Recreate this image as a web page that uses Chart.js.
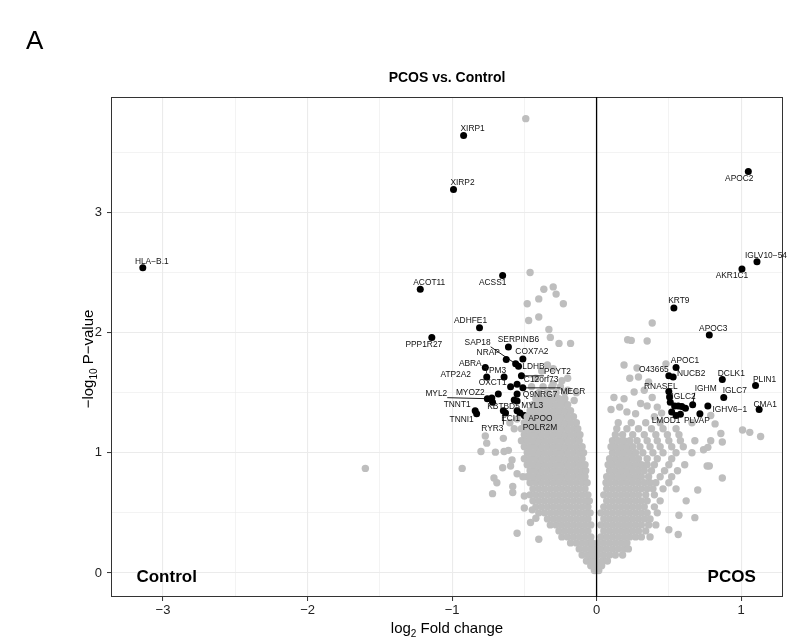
<!DOCTYPE html>
<html>
<head>
<meta charset="utf-8">
<script src="https://cdn.jsdelivr.net/npm/chart.js@4.4.1/dist/chart.umd.min.js"></script>
<style>
  html, body { margin: 0; padding: 0; background: #fff; }
  #wrap { width: 791px; height: 644px; position: relative; }
</style>
</head>
<body>
<div id="wrap"><canvas id="volcano"></canvas></div>
<script>
// axis ticks (major = integers, minor = halves)
const xTicks = [-3, -2.5, -2, -1.5, -1, -0.5, 0, 0.5, 1];
const yTicks = [0, 0.5, 1, 1.5, 2, 2.5, 3, 3.5];

// significant genes (black)
const genes = ["HLA\u2212B.1", "XIRP1", "XIRP2", "ACSS1", "ACOT11", "APOC2", "IGLV10\u221254", "AKR1C1",
  "ADHFE1", "PPP1R27", "SERPINB6", "SAP18", "NRAP", "COX7A2", "LDHB", "ABRA", "TPM3", "ATP2A2",
  "PCYT2", "OXCT1", "C12orf73", "MECR", "Q9NRG7", "MYL2", "MYOZ2", "KBTBD5", "MYL3", "TNNT1",
  "TNNI1", "ECI1", "RYR3", "APOO", "POLR2M",
  "KRT9", "APOC3", "APOC1", "O43665", "NUCB2", "DCLK1", "PLIN1", "RNASEL", "IGLC2", "IGHM",
  "IGLC7", "IGHV6\u22121", "CMA1", "PLVAP", "LMOD1",
  "", "", "", "", "", "", "", "", "", ""];
const geneFC = [-3.14, -0.92, -0.99, -0.65, -1.22, 1.05, 1.11, 1.006,
  -0.81, -1.14, -0.61, -0.56, -0.625, -0.51, -0.54, -0.77, -0.64, -0.76,
  -0.52, -0.595, -0.55, -0.51, -0.55, -0.756, -0.68, -0.72, -0.57, -0.84,
  -0.83, -0.63, -0.645, -0.50, -0.53,
  0.535, 0.78, 0.55, 0.50, 0.53, 0.87, 1.10, 0.50, 0.505, 0.665,
  0.88, 0.77, 1.125, 0.715, 0.55,
  -0.725, -0.55, -0.55, 0.51, 0.54, 0.565, 0.59, 0.615, 0.52, 0.58];
const geneP = [2.54, 3.64, 3.19, 2.475, 2.36, 3.34, 2.59, 2.53,
  2.04, 1.96, 1.88, 1.74, 1.775, 1.78, 1.72, 1.71, 1.63, 1.63,
  1.64, 1.55, 1.57, 1.54, 1.49, 1.45, 1.49, 1.42, 1.44, 1.35,
  1.325, 1.33, 1.35, 1.31, 1.33,
  2.205, 1.98, 1.71, 1.64, 1.63, 1.61, 1.56, 1.51, 1.465, 1.40,
  1.46, 1.39, 1.36, 1.325, 1.31,
  1.455, 1.43, 1.35, 1.42, 1.39, 1.39, 1.385, 1.37, 1.34, 1.32];

// label placement (pixel offsets from the point) and which labels get a leader line
const labelDX = [9, 9, 9, -10, 9, -9, 9, -10,
  -9, -8, 10, -38, -18, 9, 15, -15, -9, -31,
  36, -18, 24, 50, 23, -51, -28, 11, 18, -18,
  -15, 5, -11, 16, 20,
  5, 4, 9, -15, 18, 9, 9, -8, 14, 13,
  11, 22, 6, -3, -10];
const labelDY = [-6, -7, -7, 7, -7, 7, -6, 7,
  -7, 7, -7, -21, -7, -7, 0, -4, -6, -2,
  -4, -4, -5, 4, 1, -5, -1, 4, 6, -6,
  6, 6, 18, 3, 15,
  -7, -6, -7, -6, -3, -6, -6, -5, 0, -16,
  -7, 4, -5, 7, 5];
const leaderGenes = ["SAP18", "PCYT2", "MECR", "MYL2", "RYR3", "IGHM"];

// non-significant genes (grey): rows of [-log10 P, [log2 FC ...]]
const grayRows = [
  [0.02, [-0.015, 0.0, 0.015]],
  [0.06, [-0.04, -0.015, 0.01, 0.035]],
  [0.10, [-0.07, -0.035, 0.0, 0.04, 0.075]],
  [0.15, [-0.10, -0.06, -0.025, 0.01, 0.05, 0.09, 0.13, 0.18]],
  [0.20, [-0.12, -0.08, -0.04, -0.01, 0.03, 0.07, 0.11, 0.15, 0.19, 0.22]],
  [0.25, [-0.18, -0.14, -0.10, -0.06, -0.03, 0.01, 0.05, 0.09, 0.13, 0.17, 0.21]],
  [0.30, [-0.24, -0.20, -0.16, -0.12, -0.08, -0.04, 0.03, 0.07, 0.11, 0.15, 0.19, 0.23, 0.27, 0.31, 0.37]],
  [0.35, [-0.26, -0.22, -0.18, -0.14, -0.10, -0.06, 0.05, 0.09, 0.13, 0.17, 0.21, 0.25, 0.29, 0.34]],
  [0.40, [-0.32, -0.28, -0.24, -0.20, -0.16, -0.12, -0.08, -0.04, 0.03, 0.07, 0.11, 0.15, 0.19, 0.23, 0.27, 0.31, 0.36, 0.41]],
  [0.45, [-0.34, -0.30, -0.26, -0.22, -0.18, -0.14, -0.10, -0.06, 0.05, 0.09, 0.13, 0.17, 0.21, 0.25, 0.29, 0.33, 0.37]],
  [0.50, [-0.40, -0.36, -0.32, -0.28, -0.24, -0.20, -0.16, -0.12, -0.08, -0.045, 0.03, 0.07, 0.11, 0.15, 0.19, 0.23, 0.27, 0.31, 0.35, 0.42]],
  [0.55, [-0.42, -0.38, -0.34, -0.30, -0.26, -0.22, -0.18, -0.14, -0.10, -0.06, 0.05, 0.09, 0.13, 0.17, 0.21, 0.25, 0.29, 0.33, 0.40]],
  [0.60, [-0.44, -0.40, -0.36, -0.32, -0.28, -0.24, -0.20, -0.16, -0.12, -0.08, -0.05, 0.07, 0.11, 0.15, 0.19, 0.23, 0.27, 0.31, 0.35, 0.44]],
  [0.65, [-0.46, -0.42, -0.38, -0.34, -0.30, -0.26, -0.22, -0.18, -0.14, -0.10, -0.06, 0.05, 0.09, 0.13, 0.17, 0.21, 0.25, 0.29, 0.34, 0.40]],
  [0.70, [-0.44, -0.40, -0.36, -0.32, -0.28, -0.24, -0.20, -0.16, -0.12, -0.08, 0.07, 0.11, 0.15, 0.19, 0.23, 0.27, 0.31, 0.35, 0.39, 0.46]],
  [0.75, [-0.46, -0.42, -0.38, -0.34, -0.30, -0.26, -0.22, -0.18, -0.14, -0.10, -0.065, 0.065, 0.09, 0.13, 0.17, 0.21, 0.25, 0.29, 0.33, 0.37, 0.41, 0.50]],
  [0.80, [-0.48, -0.44, -0.40, -0.36, -0.32, -0.28, -0.24, -0.20, -0.16, -0.12, -0.08, 0.07, 0.11, 0.15, 0.19, 0.23, 0.27, 0.31, 0.36, 0.44, 0.52]],
  [0.85, [-0.46, -0.42, -0.38, -0.34, -0.30, -0.26, -0.22, -0.18, -0.14, -0.10, -0.075, 0.09, 0.13, 0.17, 0.21, 0.25, 0.29, 0.33, 0.38, 0.47, 0.56]],
  [0.90, [-0.48, -0.44, -0.40, -0.36, -0.32, -0.28, -0.24, -0.20, -0.16, -0.12, -0.08, 0.08, 0.11, 0.15, 0.19, 0.23, 0.27, 0.31, 0.35, 0.40, 0.50, 0.61]],
  [0.95, [-0.50, -0.46, -0.42, -0.38, -0.34, -0.30, -0.26, -0.22, -0.18, -0.14, -0.10, 0.09, 0.13, 0.17, 0.21, 0.25, 0.29, 0.35, 0.42, 0.52]],
  [1.00, [-0.48, -0.44, -0.40, -0.36, -0.32, -0.28, -0.24, -0.20, -0.16, -0.12, -0.09, 0.11, 0.15, 0.19, 0.23, 0.27, 0.32, 0.39, 0.46, 0.55, 0.66]],
  [1.05, [-0.50, -0.46, -0.42, -0.38, -0.34, -0.30, -0.26, -0.22, -0.18, -0.14, -0.10, 0.10, 0.13, 0.17, 0.21, 0.25, 0.30, 0.37, 0.44, 0.52, 0.60]],
  [1.10, [-0.52, -0.48, -0.44, -0.40, -0.36, -0.32, -0.28, -0.24, -0.20, -0.16, -0.12, 0.11, 0.15, 0.19, 0.23, 0.28, 0.35, 0.42, 0.50, 0.58, 0.68]],
  [1.15, [-0.50, -0.46, -0.42, -0.38, -0.34, -0.30, -0.26, -0.22, -0.18, -0.14, -0.115, 0.13, 0.18, 0.25, 0.33, 0.41, 0.49, 0.57]],
  [1.20, [-0.52, -0.48, -0.44, -0.40, -0.36, -0.32, -0.28, -0.24, -0.20, -0.16, -0.13, 0.14, 0.21, 0.29, 0.38, 0.46, 0.55]],
  [1.25, [-0.50, -0.46, -0.42, -0.38, -0.34, -0.30, -0.26, -0.22, -0.18, -0.14, 0.15, 0.24, 0.34, 0.44]],
  [1.30, [-0.48, -0.44, -0.40, -0.36, -0.32, -0.28, -0.24, -0.20, -0.16]],
  [1.35, [-0.46, -0.42, -0.38, -0.34, -0.30, -0.26, -0.22, -0.18]],
  [1.40, [-0.44, -0.40, -0.36, -0.32, -0.28, -0.24, -0.20]],
  [1.45, [-0.42, -0.38, -0.34, -0.30, -0.26, -0.22]],
  [1.50, [-0.40, -0.34, -0.28, -0.22]],
  [1.55, [-0.37, -0.31, -0.25]]
];
// scattered grey genes away from the main cloud: [log2 FC, -log10 P]
const grayScatter = [
  [-0.49, 3.78], [-0.46, 2.50], [-0.365, 2.36], [-0.30, 2.38], [-0.28, 2.32], [-0.40, 2.28],
  [-0.48, 2.24], [-0.40, 2.13], [-0.23, 2.24], [-0.33, 2.025], [-0.47, 2.10], [-0.26, 1.91],
  [-0.18, 1.91], [-0.32, 1.96], [-0.34, 1.73], [-0.30, 1.70], [-0.24, 1.60], [-0.30, 1.575],
  [-0.20, 1.52], [-0.155, 1.435], [-0.24, 1.435], [-0.42, 1.62], [-0.38, 1.68], [-0.45, 1.55],
  [-0.20, 1.62], [-0.14, 1.50],
  [-1.6, 0.87], [-0.93, 0.87], [-0.80, 1.01], [-0.76, 1.08], [-0.77, 1.14], [-0.70, 1.005],
  [-0.64, 1.01], [-0.61, 1.02], [-0.645, 1.12], [-0.585, 0.94], [-0.595, 0.89], [-0.65, 0.875],
  [-0.71, 0.79], [-0.69, 0.75], [-0.72, 0.66], [-0.58, 0.72], [-0.58, 0.67], [-0.50, 0.64],
  [-0.50, 0.54], [-0.445, 0.525], [-0.457, 0.42], [-0.42, 0.455], [-0.55, 0.33], [-0.40, 0.28],
  [-0.55, 0.825], [-0.51, 0.80], [-0.57, 1.20], [-0.60, 1.25], [-0.55, 1.28],
  [0.385, 2.08], [0.215, 1.94], [0.24, 1.935], [0.35, 1.93], [0.19, 1.73], [0.28, 1.705],
  [0.48, 1.74], [0.23, 1.62], [0.29, 1.63], [0.36, 1.59], [0.12, 1.46], [0.19, 1.45],
  [0.26, 1.505], [0.33, 1.52], [0.385, 1.46], [0.305, 1.41], [0.35, 1.39], [0.42, 1.38],
  [0.21, 1.34], [0.27, 1.325], [0.79, 1.31], [0.45, 1.33], [0.40, 1.30], [0.10, 1.36], [0.16, 1.38],
  [1.01, 1.19], [1.06, 1.17], [1.135, 1.135], [0.87, 0.79], [0.70, 0.69], [0.78, 0.89],
  [0.74, 1.025], [0.77, 1.045], [0.86, 1.16], [0.87, 1.09], [0.79, 1.10], [0.82, 1.24],
  [0.68, 0.46], [0.565, 0.32], [0.57, 0.48], [0.765, 0.89], [0.66, 1.25], [0.62, 0.60],
  [0.55, 0.70], [0.50, 0.36]
];

// group annotations
const groupNames = ["Control", "PCOS"];
const groupFC = [-2.975, 0.935];
const groupP = [-0.04, -0.04];

const FONT = '"Liberation Sans", Arial, Helvetica, sans-serif';

const grayData = [];
grayRows.forEach(([p, fcs]) => fcs.forEach(fc => grayData.push({ x: fc, y: p })));
grayScatter.forEach(([fc, p]) => grayData.push({ x: fc, y: p }));
const sigData = geneFC.map((fc, i) => ({ x: fc, y: geneP[i] }));

const isMajor = v => Math.abs(v - Math.round(v)) < 1e-6;
const fmt = v => v < 0 ? '\u2212' + Math.abs(v) : String(v);

const decorPlugin = {
  id: 'decor',
  beforeDatasetsDraw(chart) {
    const { ctx, chartArea: a } = chart;
    ctx.save();
    ctx.strokeStyle = '#333333';
    ctx.lineWidth = 1;
    ctx.strokeRect(a.left + 0.5, a.top + 0.5, a.right - a.left - 1, a.bottom - a.top - 1);
    ctx.restore();
  },
  afterDatasetsDraw(chart) {
    const { ctx, chartArea: a, scales: { x, y } } = chart;
    ctx.save();
    // zero line
    const zx = x.getPixelForValue(0);
    ctx.strokeStyle = '#000';
    ctx.lineWidth = 1.3;
    ctx.beginPath();
    ctx.moveTo(zx, a.top);
    ctx.lineTo(zx, a.bottom);
    ctx.stroke();

    // gene labels
    ctx.font = '8.4px ' + FONT;
    ctx.textAlign = 'center';
    ctx.textBaseline = 'middle';
    ctx.fillStyle = '#111';
    ctx.strokeStyle = '#000';
    ctx.lineWidth = 0.9;
    genes.forEach((g, i) => {
      if (!g) return;
      const px = x.getPixelForValue(geneFC[i]);
      const py = y.getPixelForValue(geneP[i]);
      const tx = px + labelDX[i];
      const ty = py + labelDY[i];
      if (leaderGenes.includes(g)) {
        const w = ctx.measureText(g).width;
        const ex = Math.min(Math.max(px, tx - w / 2), tx + w / 2);
        const ey = Math.min(Math.max(py, ty - 4), ty + 4);
        ctx.beginPath();
        ctx.moveTo(px, py);
        ctx.lineTo(ex, ey);
        ctx.stroke();
      }
      ctx.fillText(g, tx, ty);
    });

    // group annotations
    ctx.font = 'bold 17px ' + FONT;
    ctx.fillStyle = '#000';
    groupNames.forEach((n, i) => {
      ctx.fillText(n, x.getPixelForValue(groupFC[i]), y.getPixelForValue(groupP[i]));
    });
    ctx.restore();
  },
  afterDraw(chart) {
    const { ctx, chartArea: a } = chart;
    const cx = (a.left + a.right) / 2;
    ctx.save();
    ctx.fillStyle = '#000';
    ctx.textBaseline = 'alphabetic';

    // panel letter
    ctx.font = '26px ' + FONT;
    ctx.textAlign = 'left';
    ctx.fillText('A', 26, 49);

    // title
    ctx.font = 'bold 14px ' + FONT;
    ctx.textAlign = 'center';
    ctx.fillText('PCOS vs. Control', cx, 82);

    // x axis title with subscript
    const big = '15px ' + FONT, small = '10px ' + FONT;
    ctx.font = big; const w1 = ctx.measureText('log').width;
    ctx.font = small; const w2 = ctx.measureText('2').width;
    ctx.font = big; const w3 = ctx.measureText(' Fold change').width;
    let sx = cx - (w1 + w2 + w3) / 2;
    const by = 633;
    ctx.textAlign = 'left';
    ctx.font = big; ctx.fillText('log', sx, by); sx += w1;
    ctx.font = small; ctx.fillText('2', sx, by + 4); sx += w2;
    ctx.font = big; ctx.fillText(' Fold change', sx, by);

    // y axis title with subscript
    ctx.translate(93, (a.top + a.bottom) / 2 + 12);
    ctx.rotate(-Math.PI / 2);
    ctx.font = big; const v1 = ctx.measureText('\u2212log').width;
    ctx.font = small; const v2 = ctx.measureText('10').width;
    ctx.font = big; const v3 = ctx.measureText(' P\u2212value').width;
    let sy = -(v1 + v2 + v3) / 2;
    ctx.font = big; ctx.fillText('\u2212log', sy, 0); sy += v1;
    ctx.font = small; ctx.fillText('10', sy, 4); sy += v2;
    ctx.font = big; ctx.fillText(' P\u2212value', sy, 0);
    ctx.restore();
  }
};

const gridOpts = {
  color: '#ebebeb',
  lineWidth: c => isMajor(c.tick.value) ? 1.1 : 0.6,
  tickColor: c => isMajor(c.tick.value) ? '#333333' : 'rgba(0,0,0,0)',
  tickLength: 4,
  tickWidth: 1,
  drawTicks: true
};

new Chart(document.getElementById('volcano'), {
  type: 'scatter',
  data: {
    datasets: [
      { data: grayData, pointRadius: 3.7, pointBackgroundColor: '#bebebe', pointBorderWidth: 0, pointHoverRadius: 3.7 },
      { data: sigData, pointRadius: 3.5, pointBackgroundColor: '#000000', pointBorderWidth: 0, pointHoverRadius: 3.5 }
    ]
  },
  options: {
    responsive: true,
    maintainAspectRatio: false,
    animation: false,
    events: [],
    layout: { padding: { top: 97, right: 8, left: 0, bottom: 0 } },
    plugins: { legend: { display: false }, tooltip: { enabled: false } },
    scales: {
      x: {
        type: 'linear', min: -3.36, max: 1.29,
        afterBuildTicks: s => { s.ticks = xTicks.map(v => ({ value: v })); },
        afterFit: s => { s.height = 47; },
        grid: gridOpts,
        border: { display: false },
        ticks: {
          callback: v => isMajor(v) ? fmt(v) : '',
          font: { family: FONT, size: 13 }, color: '#222', padding: 2,
          maxRotation: 0, autoSkip: false
        }
      },
      y: {
        type: 'linear', min: -0.2, max: 3.96,
        afterBuildTicks: s => { s.ticks = yTicks.map(v => ({ value: v })); },
        afterFit: s => { s.width = 111; },
        grid: gridOpts,
        border: { display: false },
        ticks: {
          callback: v => isMajor(v) ? fmt(v) : '',
          font: { family: FONT, size: 13 }, color: '#222', padding: 5,
          autoSkip: false
        }
      }
    }
  },
  plugins: [decorPlugin]
});
</script>
</body>
</html>
